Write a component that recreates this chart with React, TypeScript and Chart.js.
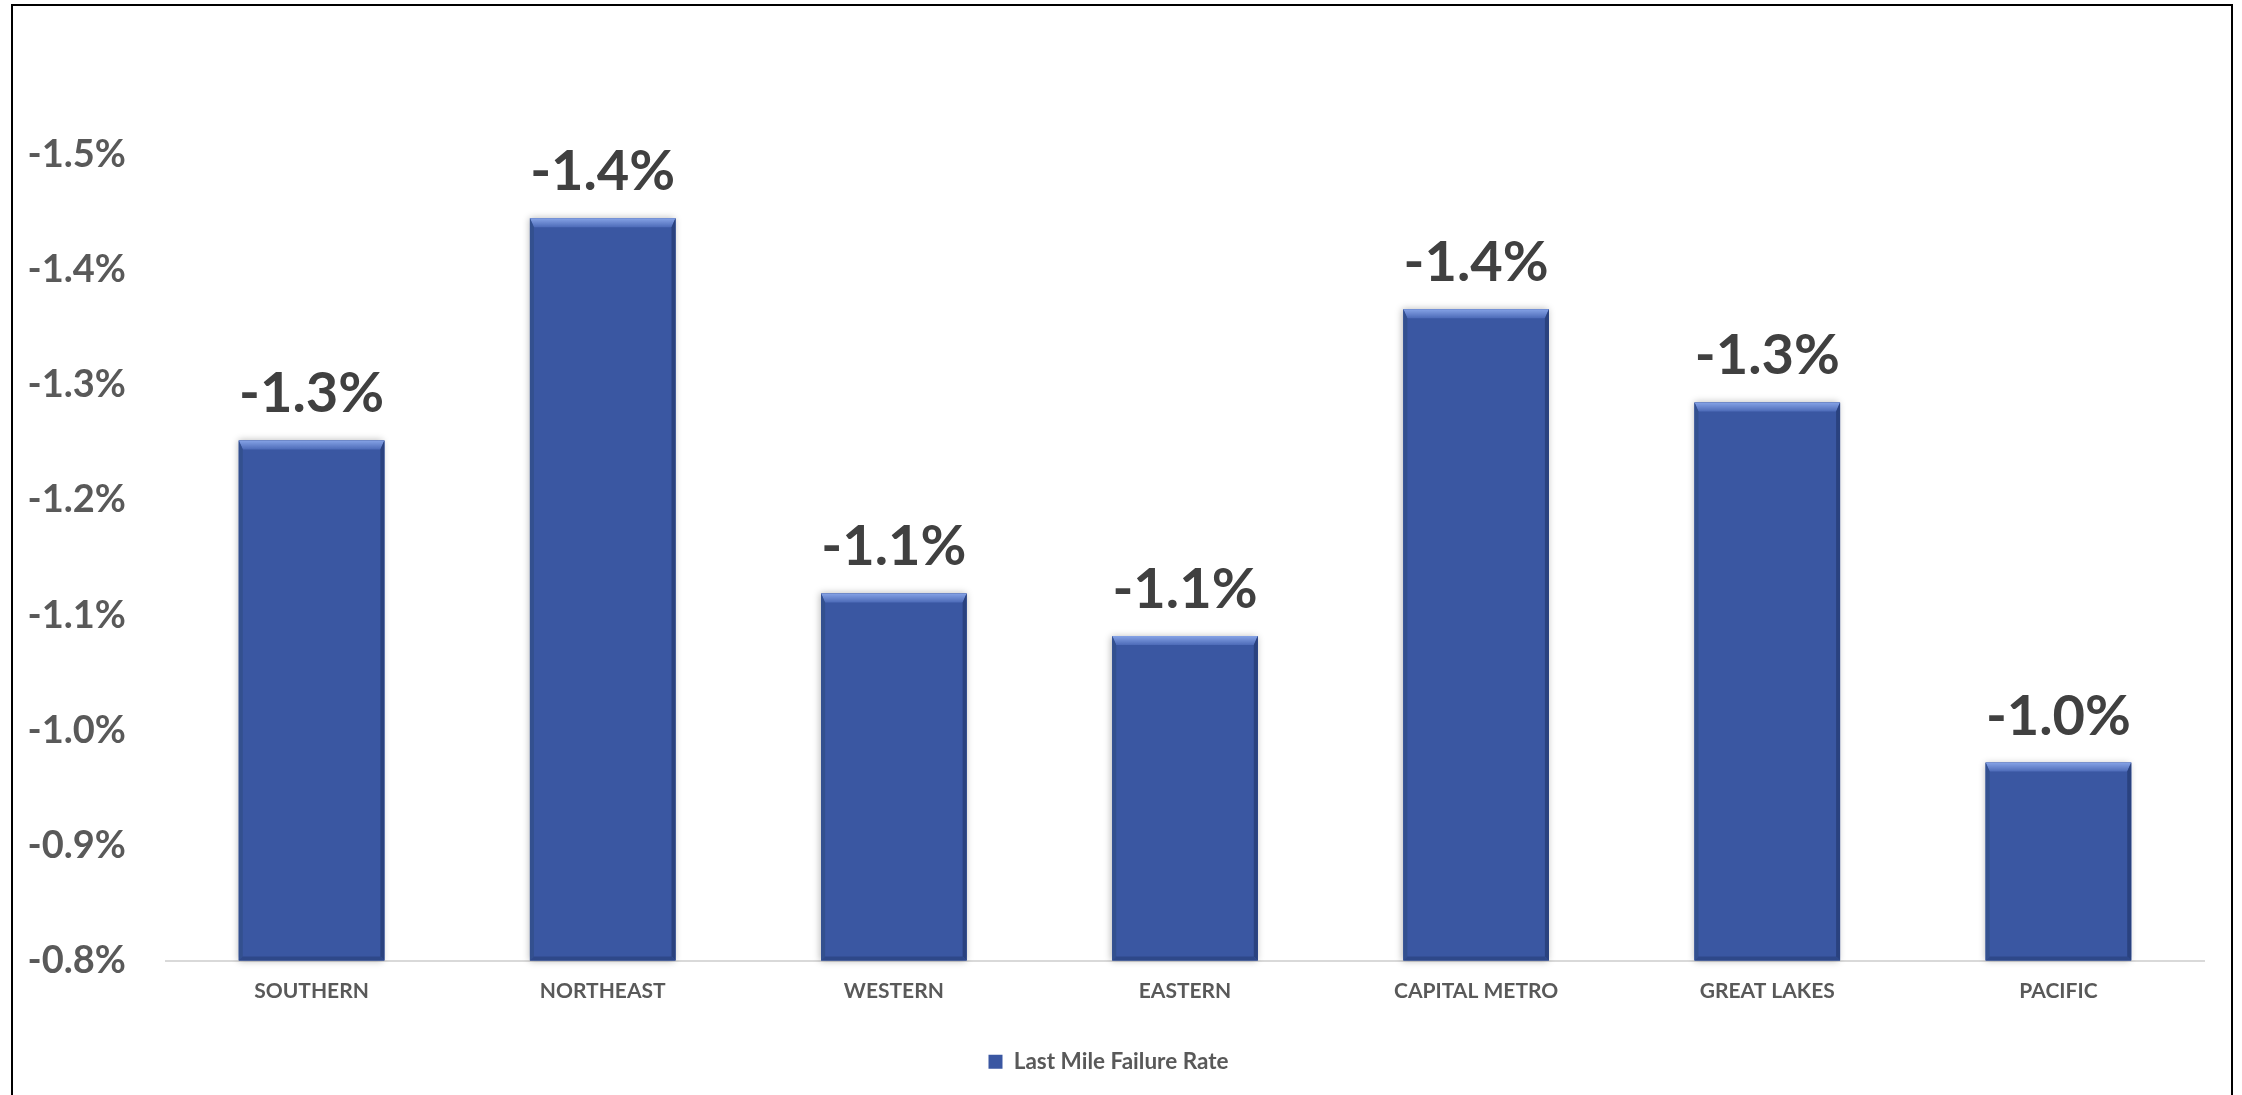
import React, { useEffect, useRef } from 'react';
import { Chart, registerables } from 'chart.js';

Chart.register(...registerables);

const categories = ['SOUTHERN', 'NORTHEAST', 'WESTERN', 'EASTERN', 'CAPITAL METRO', 'GREAT LAKES', 'PACIFIC'];
const failureRates = [-1.252, -1.445, -1.119, -1.082, -1.366, -1.285, -0.972];
const seriesName = 'Last Mile Failure Rate';
const yMin = -1.5;
const yMax = -0.8;
const yStep = 0.1;

const FONT = 'Lato, "Open Sans", sans-serif';
const BAR_COLOR = '#3A57A2';

const shadowPlugin = {
  id: 'barShadow',
  beforeDatasetsDraw(chart: any) {
    const ctx = chart.ctx;
    const meta = chart.getDatasetMeta(0);
    ctx.save();
    meta.data.forEach((bar: any) => {
      const { x, y, base, width } = bar.getProps(['x', 'y', 'base', 'width'], true);
      const t = Math.min(y, base);
      const b = Math.max(y, base);
      ctx.shadowColor = 'rgba(0,0,0,0.28)';
      ctx.shadowBlur = 7;
      ctx.shadowOffsetX = -1;
      ctx.shadowOffsetY = 0;
      ctx.fillStyle = BAR_COLOR;
      ctx.fillRect(x - width / 2, t, width, b - t);
    });
    ctx.restore();
  },
};

const bevelPlugin = {
  id: 'bevel',
  afterDatasetsDraw(chart: any) {
    const ctx = chart.ctx;
    const meta = chart.getDatasetMeta(0);
    meta.data.forEach((bar: any, i: number) => {
      const { x, y, base, width } = bar.getProps(['x', 'y', 'base', 'width'], true);
      const l = x - width / 2;
      const r = x + width / 2;
      const t = Math.min(y, base);
      const b = Math.max(y, base);
      const d = 9;
      const s = 4;
      ctx.save();
      const g = ctx.createLinearGradient(0, t, 0, t + d);
      g.addColorStop(0, '#86a3e6');
      g.addColorStop(1, '#4d6bb8');
      ctx.fillStyle = g;
      ctx.beginPath();
      ctx.moveTo(l, t);
      ctx.lineTo(r, t);
      ctx.lineTo(r - s, t + d);
      ctx.lineTo(l + s, t + d);
      ctx.closePath();
      ctx.fill();
      ctx.fillStyle = '#33508f';
      ctx.beginPath();
      ctx.moveTo(l, t);
      ctx.lineTo(l + s, t + d);
      ctx.lineTo(l + s, b - s);
      ctx.lineTo(l, b);
      ctx.closePath();
      ctx.fill();
      ctx.fillStyle = '#2a427f';
      ctx.beginPath();
      ctx.moveTo(r, t);
      ctx.lineTo(r - s, t + d);
      ctx.lineTo(r - s, b - s);
      ctx.lineTo(r, b);
      ctx.closePath();
      ctx.fill();
      ctx.fillStyle = '#2e4889';
      ctx.beginPath();
      ctx.moveTo(l, b);
      ctx.lineTo(l + s, b - s);
      ctx.lineTo(r - s, b - s);
      ctx.lineTo(r, b);
      ctx.closePath();
      ctx.fill();
      ctx.restore();

      ctx.save();
      ctx.font = `bold 56px ${FONT}`;
      ctx.fillStyle = '#404040';
      ctx.textAlign = 'center';
      ctx.textBaseline = 'alphabetic';
      const v = failureRates[i];
      ctx.fillText(v.toFixed(1) + '%', x, t - 28);
      ctx.restore();
    });
  },
};

export default function App() {
  const canvasRef = useRef<HTMLCanvasElement | null>(null);

  useEffect(() => {
    const canvas = canvasRef.current;
    if (!canvas) return;
    const chart = new Chart(canvas, {
      type: 'bar',
      data: {
        labels: categories,
        datasets: [
          {
            label: seriesName,
            data: failureRates,
            base: yMax,
            backgroundColor: BAR_COLOR,
            borderWidth: 0,
            barPercentage: 0.5,
            categoryPercentage: 1,
          },
        ],
      },
      options: {
        animation: false,
        responsive: false,
        maintainAspectRatio: false,
        layout: { padding: { top: 149, right: 27, bottom: 17, left: 0 } },
        plugins: {
          tooltip: { enabled: false },
          legend: {
            display: true,
            position: 'bottom',
            labels: {
              color: '#595959',
              font: { family: FONT, size: 22.5, weight: 'bold' },
              boxWidth: 14,
              boxHeight: 14,
              padding: 9,
            },
          },
        },
        scales: {
          x: {
            grid: { display: false, drawTicks: false },
            border: { display: true, color: '#d9d9d9', width: 2 },
            ticks: {
              color: '#595959',
              font: { family: FONT, size: 21, weight: 'bold' },
              padding: 18,
              maxRotation: 0,
              autoSkip: false,
            },
            afterFit: (scale: any) => {
              scale.height = 81;
            },
          },
          y: {
            min: yMin,
            max: yMax,
            reverse: true,
            beginAtZero: false,
            grid: { display: false, drawTicks: false },
            border: { display: false },
            ticks: {
              stepSize: yStep,
              color: '#595959',
              font: { family: FONT, size: 38, weight: 'bold' },
              padding: 40,
              callback: (v: any) => Number(v).toFixed(1) + '%',
            },
            afterFit: (scale: any) => {
              scale.width = 153;
            },
          },
        },
      },
      plugins: [shadowPlugin, bevelPlugin],
    });
    return () => chart.destroy();
  }, []);

  return (
    <div
      style={{
        position: 'fixed',
        left: 11,
        top: 4,
        width: 2222,
        height: 1102,
        border: '2px solid #000',
        boxSizing: 'border-box',
        background: '#fff',
      }}
    >
      <canvas ref={canvasRef} width={2218} height={1094} style={{ display: 'block', width: 2218, height: 1094 }} />
    </div>
  );
}
